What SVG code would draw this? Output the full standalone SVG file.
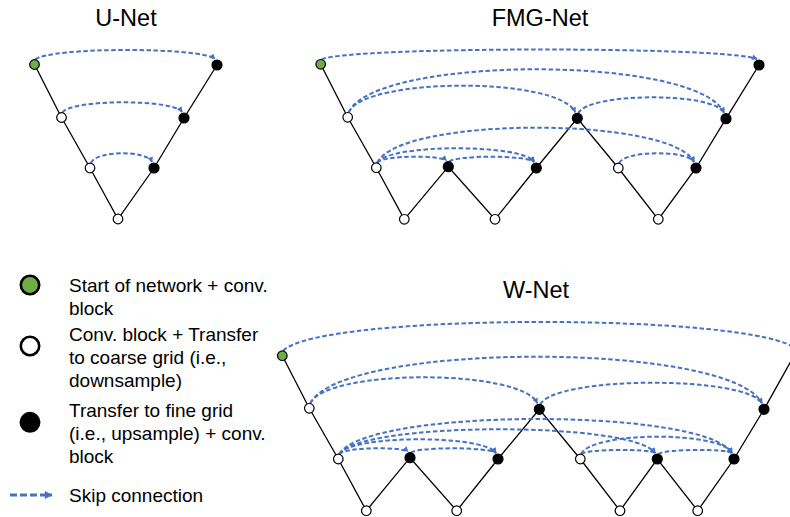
<svg xmlns="http://www.w3.org/2000/svg" width="790" height="517" viewBox="0 0 790 517">
<defs>
<marker id="ah" viewBox="0 0 10 10" refX="9" refY="5" markerUnits="userSpaceOnUse" markerWidth="6.5" markerHeight="5.5" orient="auto">
<path d="M0,0 L10,5 L0,10 z" fill="#4472C4"/>
</marker>
<marker id="ahL" viewBox="0 0 10 10" refX="9" refY="5" markerUnits="userSpaceOnUse" markerWidth="11" markerHeight="8" orient="auto">
<path d="M0,0 L10,5 L0,10 z" fill="#4472C4"/>
</marker>
<style>
.t{font-family:"Liberation Sans",Arial,sans-serif;fill:#000}
.title{font-size:23.5px;text-anchor:middle}
.leg{font-size:19px}
.edge{fill:none;stroke:#000;stroke-width:1.3}
.skip{fill:none;stroke:#4472C4;stroke-width:2;stroke-dasharray:4.5 2.5;marker-end:url(#ah)}
.w{fill:#fff;stroke:#000;stroke-width:1.2}
.b{fill:#000;stroke:#000;stroke-width:1.2}
.g{fill:#70AD47;stroke:#000;stroke-width:1.2}
.lw{fill:#fff;stroke:#000;stroke-width:2.6}
.lb{fill:#000;stroke:#000;stroke-width:2.6}
.lg{fill:#70AD47;stroke:#000;stroke-width:2.6}
</style>
</defs>
<rect width="790" height="517" fill="#fff"/>

<text class="t title" x="126" y="26">U-Net</text>
<text class="t title" x="540" y="26">FMG-Net</text>
<text class="t title" x="536" y="298">W-Net</text>

<g id="connectors">
<polyline class="edge" points="34.5,64.5 61.5,117.5 90,168 118,219 154,168 184,118 217,65"/>
<polyline class="edge" points="320.7,64.3 347.7,117.3 376.3,167.7 404.3,219.3 448.3,166.7 495,219.3 536.3,168 577.3,118.3 618.3,168 658.3,219.3 696,168 726,118.7 759,65"/>
<polyline class="edge" points="282.3,355.7 309.3,408.3 338.3,459 366.3,510.7 410,457.7 456.7,510.7 498,459 539.3,409.3 580.3,459 620,510.7 657.3,459 697.7,510.7 734,459 764,409.3 800,345"/>

<path class="skip" d="M35.5,59.5 C48.1,46.9 202.4,46.9 215,59"/>
<path class="skip" d="M62.5,112.5 C70.9,99 173.6,99 182,112"/>
<path class="skip" d="M91,163 C95.3,150.2 147.7,150.2 152,162"/>

<path class="skip" d="M321.7,59.3 C352.2,46.3 726.5,46.3 757,59"/>
<path class="skip" d="M348.7,112.3 C364.6,76.8 559.4,76.8 575.3,112.3"/>
<path class="skip" d="M348.7,112.3 C375,54.9 697.7,54.9 724,112.7"/>
<path class="skip" d="M578.3,113.3 C588.5,92.1 713.8,92.1 724,112.7"/>
<path class="skip" d="M377.3,162.7 C382.1,155 441.5,155 446.3,160.7"/>
<path class="skip" d="M377.3,162.7 C388.3,143.6 523.3,143.6 534.3,162"/>
<path class="skip" d="M449.3,161.7 C455.3,155 528.3,155 534.3,162"/>
<path class="skip" d="M377.3,162.7 C399.5,116.1 671.8,116.1 694,162"/>
<path class="skip" d="M619.3,163 C624.5,150.2 688.8,150.2 694,162"/>

<path class="skip" d="M283.3,350.7 C319.3,312.5 761,312.5 797,350"/>
<path class="skip" d="M310.3,403.3 C326.2,368.6 521.4,368.6 537.3,403.3"/>
<path class="skip" d="M310.3,403.3 C341.9,341.2 730.4,341.2 762,403.3"/>
<path class="skip" d="M540.3,404.3 C555.8,375.7 746.5,375.7 762,403.3"/>
<path class="skip" d="M339.3,454 C344.1,446.8 403.2,446.8 408,451.7"/>
<path class="skip" d="M411,452.7 C417,446.8 490,446.8 496,453"/>
<path class="skip" d="M339.3,454 C350.3,434.6 485,434.6 496,453"/>
<path class="skip" d="M339.3,454 C361.4,421.2 633.2,421.2 655.3,453"/>
<path class="skip" d="M339.3,454 C366.8,407.5 704.5,407.5 732,453"/>
<path class="skip" d="M581.3,454 C586.5,448.8 650.1,448.8 655.3,453"/>
<path class="skip" d="M581.3,454 C591.8,431.1 721.5,431.1 732,453"/>
<path class="skip" d="M658.3,454 C663.5,448.8 726.8,448.8 732,453"/>
</g>

<g id="unet-n1"><circle class="g" cx="34.5" cy="64.5" r="4.8"/></g>
<g id="unet-n2"><circle class="w" cx="61.5" cy="117.5" r="4.8"/></g>
<g id="unet-n3"><circle class="w" cx="90" cy="168" r="4.8"/></g>
<g id="unet-n4"><circle class="w" cx="118" cy="219" r="4.8"/></g>
<g id="unet-n5"><circle class="b" cx="154" cy="168" r="5"/></g>
<g id="unet-n6"><circle class="b" cx="184" cy="118" r="5"/></g>
<g id="unet-n7"><circle class="b" cx="217" cy="65" r="5"/></g>

<g id="fmg-n1"><circle class="g" cx="320.7" cy="64.3" r="4.8"/></g>
<g id="fmg-n2"><circle class="w" cx="347.7" cy="117.3" r="4.8"/></g>
<g id="fmg-n3"><circle class="w" cx="376.3" cy="167.7" r="4.8"/></g>
<g id="fmg-n4"><circle class="w" cx="404.3" cy="219.3" r="4.8"/></g>
<g id="fmg-n5"><circle class="b" cx="448.3" cy="166.7" r="5"/></g>
<g id="fmg-n6"><circle class="w" cx="495" cy="219.3" r="4.8"/></g>
<g id="fmg-n7"><circle class="b" cx="536.3" cy="168" r="5"/></g>
<g id="fmg-n8"><circle class="b" cx="577.3" cy="118.3" r="5"/></g>
<g id="fmg-n9"><circle class="w" cx="618.3" cy="168" r="4.8"/></g>
<g id="fmg-n10"><circle class="w" cx="658.3" cy="219.3" r="4.8"/></g>
<g id="fmg-n11"><circle class="b" cx="696" cy="168" r="5"/></g>
<g id="fmg-n12"><circle class="b" cx="726" cy="118.7" r="5"/></g>
<g id="fmg-n13"><circle class="b" cx="759" cy="65" r="5"/></g>

<g id="wnet-n1"><circle class="g" cx="282.3" cy="355.7" r="4.8"/></g>
<g id="wnet-n2"><circle class="w" cx="309.3" cy="408.3" r="4.8"/></g>
<g id="wnet-n3"><circle class="w" cx="338.3" cy="459" r="4.8"/></g>
<g id="wnet-n4"><circle class="w" cx="366.3" cy="510.7" r="4.8"/></g>
<g id="wnet-n5"><circle class="b" cx="410" cy="457.7" r="5"/></g>
<g id="wnet-n6"><circle class="w" cx="456.7" cy="510.7" r="4.8"/></g>
<g id="wnet-n7"><circle class="b" cx="498" cy="459" r="5"/></g>
<g id="wnet-n8"><circle class="b" cx="539.3" cy="409.3" r="5"/></g>
<g id="wnet-n9"><circle class="w" cx="580.3" cy="459" r="4.8"/></g>
<g id="wnet-n10"><circle class="w" cx="620" cy="510.7" r="4.8"/></g>
<g id="wnet-n11"><circle class="b" cx="657.3" cy="459" r="5"/></g>
<g id="wnet-n12"><circle class="w" cx="697.7" cy="510.7" r="4.8"/></g>
<g id="wnet-n13"><circle class="b" cx="734" cy="459" r="5"/></g>
<g id="wnet-n14"><circle class="b" cx="764" cy="409.3" r="5"/></g>

<g id="legend">
<circle class="lg" cx="30" cy="285" r="9.2"/>
<circle class="lw" cx="30" cy="346" r="9.2"/>
<circle class="lb" cx="30" cy="422.3" r="9.2"/>
<line x1="10" y1="495" x2="52" y2="495" stroke="#4472C4" stroke-width="3" stroke-dasharray="7 3" marker-end="url(#ahL)"/>
<text class="t leg" x="69" y="292.3">Start of network + conv.</text>
<text class="t leg" x="69" y="315">block</text>
<text class="t leg" x="69" y="341">Conv. block + Transfer</text>
<text class="t leg" x="69" y="364.3">to coarse grid (i.e.,</text>
<text class="t leg" x="69" y="387.3">downsample)</text>
<text class="t leg" x="69" y="416.7">Transfer to fine grid</text>
<text class="t leg" x="69" y="440">(i.e., upsample) + conv.</text>
<text class="t leg" x="69" y="462.7">block</text>
<text class="t leg" x="69" y="501.7">Skip connection</text>
</g>
</svg>
